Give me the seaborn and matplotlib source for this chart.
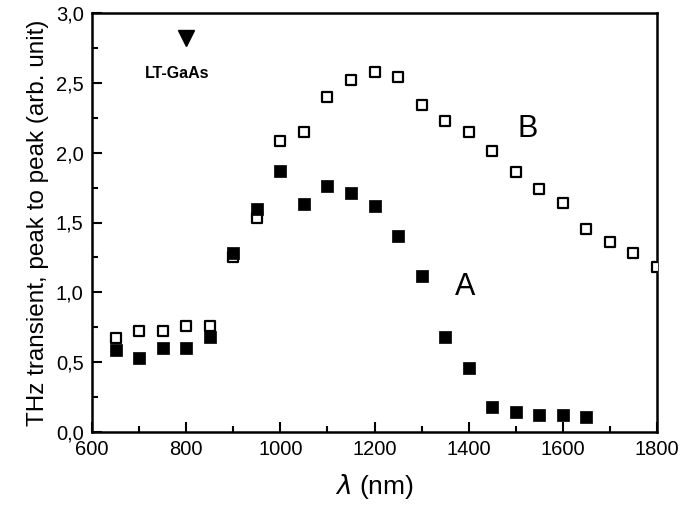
import numpy as np
import pandas as pd
import matplotlib
matplotlib.use("Agg")
import matplotlib.pyplot as plt
import seaborn as sns
from matplotlib.ticker import MultipleLocator, FuncFormatter

# wavelengths (nm)
wl_a = [650, 700, 750, 800, 850, 900, 950, 1000, 1050, 1100, 1150, 1200,
        1250, 1300, 1350, 1400, 1450, 1500, 1550, 1600, 1650]
thz_a = [0.59, 0.53, 0.60, 0.60, 0.68, 1.28, 1.60, 1.87, 1.63, 1.76, 1.71, 1.62,
         1.40, 1.12, 0.68, 0.46, 0.18, 0.14, 0.12, 0.12, 0.11]

wl_b = [650, 700, 750, 800, 850, 900, 950, 1000, 1050, 1100, 1150, 1200,
        1250, 1300, 1350, 1400, 1450, 1500, 1550, 1600, 1650, 1700, 1750, 1800]
thz_b = [0.67, 0.72, 0.72, 0.76, 0.76, 1.25, 1.53, 2.08, 2.15, 2.40, 2.52, 2.58,
         2.54, 2.34, 2.23, 2.15, 2.01, 1.86, 1.74, 1.64, 1.45, 1.36, 1.28, 1.18]

df_a = pd.DataFrame({'wl': wl_a, 'thz': thz_a})
df_b = pd.DataFrame({'wl': wl_b, 'thz': thz_b})

sns.set_style("white")
plt.rcParams['font.family'] = ['Liberation Sans', 'DejaVu Sans']
plt.rcParams['text.color'] = 'black'
plt.rcParams['axes.labelcolor'] = 'black'

fig = plt.figure(figsize=(6.85, 5.16), dpi=100)
ax = fig.add_axes([92/685, 1 - 432/516, 565/685, 419/516])

sns.scatterplot(data=df_b, x='wl', y='thz', marker='s', s=55, color='white',
                edgecolor='black', linewidth=1.6, ax=ax, zorder=3)
sns.scatterplot(data=df_a, x='wl', y='thz', marker='s', s=80, color='black',
                edgecolor='black', linewidth=0.5, ax=ax, zorder=4)

ax.set_xlim(600, 1800)
ax.set_ylim(0, 3.0)
ax.xaxis.set_major_locator(MultipleLocator(200))
ax.xaxis.set_minor_locator(MultipleLocator(100))
ax.yaxis.set_major_locator(MultipleLocator(0.5))
ax.yaxis.set_minor_locator(MultipleLocator(0.25))
ax.yaxis.set_major_formatter(FuncFormatter(lambda v, p: f"{v:.1f}".replace('.', ',')))
ax.tick_params(which='both', direction='in', top=False, right=False,
               left=True, bottom=True, labelsize=14.5, colors='black')
ax.tick_params(which='major', length=7, width=1.5, pad=6)
ax.tick_params(which='minor', length=4, width=1.5)
for sp in ax.spines.values():
    sp.set_linewidth(1.8)
    sp.set_color('black')

ax.set_xlabel(r'$\lambda$ (nm)', fontsize=19, labelpad=9)
ax.set_ylabel('THz transient, peak to peak (arb. unit)', fontsize=17.5, labelpad=5)

ax.plot([800], [2.82], marker='v', color='black', markersize=12, linestyle='none')
ax.text(780, 2.57, 'LT-GaAs', fontsize=11.5, fontweight='bold', ha='center', va='center')
ax.text(1526, 2.17, 'B', fontsize=22, ha='center', va='center')
ax.text(1392, 1.04, 'A', fontsize=22, ha='center', va='center')

fig.savefig('out.png', dpi=100)
